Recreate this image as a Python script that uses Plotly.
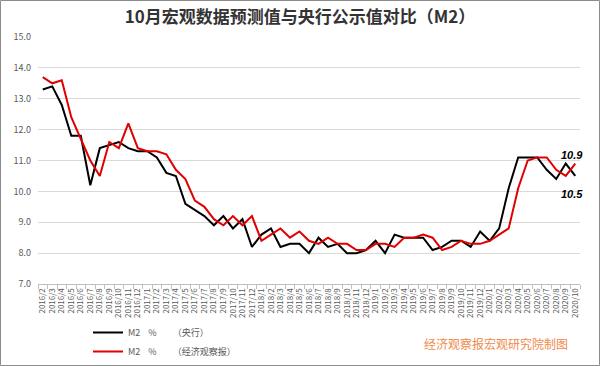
import plotly.graph_objects as go

months = ["2016/2","2016/3","2016/4","2016/5","2016/6","2016/7","2016/8","2016/9","2016/10","2016/11","2016/12",
          "2017/1","2017/2","2017/3","2017/4","2017/5","2017/6","2017/7","2017/8","2017/9","2017/10","2017/11","2017/12",
          "2018/1","2018/2","2018/3","2018/4","2018/5","2018/6","2018/7","2018/8","2018/9","2018/10","2018/11","2018/12",
          "2019/1","2019/2","2019/3","2019/4","2019/5","2019/6","2019/7","2019/8","2019/9","2019/10","2019/11","2019/12",
          "2020/1","2020/2","2020/3","2020/4","2020/5","2020/6","2020/7","2020/8","2020/9","2020/10"]

m2_pboc = [13.3,13.4,12.8,11.8,11.8,10.2,11.4,11.5,11.6,11.4,11.3,
           11.3,11.1,10.6,10.5,9.6,9.4,9.2,8.9,9.2,8.8,9.1,8.2,
           8.6,8.8,8.2,8.3,8.3,8.0,8.5,8.2,8.3,8.0,8.0,8.1,
           8.4,8.0,8.6,8.5,8.5,8.5,8.1,8.2,8.4,8.4,8.2,8.7,
           8.4,8.8,10.1,11.1,11.1,11.1,10.7,10.4,10.9,10.5]

m2_eeo = [13.7,13.5,13.6,12.4,11.7,11.0,10.5,11.6,11.4,12.2,11.4,
          11.3,11.3,11.2,10.7,10.4,9.7,9.5,9.1,8.9,9.2,8.9,9.2,
          8.4,8.6,8.8,8.5,8.7,8.4,8.3,8.5,8.3,8.3,8.1,8.1,
          8.3,8.3,8.2,8.5,8.5,8.6,8.5,8.1,8.2,8.4,8.3,8.3,
          8.4,8.6,8.8,10.1,11.0,11.1,11.1,10.7,10.5,10.9]

y_ticks = [7.0, 8.0, 9.0, 10.0, 11.0, 12.0, 13.0, 14.0, 15.0]

nb = "\u00a0"
name_pboc = "M2" + nb*4 + "%" + nb*8 + "（央行）"
name_eeo = "M2" + nb*4 + "%" + nb*8 + "（经济观察报）"

fig = go.Figure()
fig.add_trace(go.Scatter(x=months, y=m2_pboc, mode="lines", name=name_pboc,
                         line=dict(color="#000000", width=2)))
fig.add_trace(go.Scatter(x=months, y=m2_eeo, mode="lines", name=name_eeo,
                         line=dict(color="#e00000", width=2)))

L, R, T, B = 38, 20, 37, 82
W, H = 600, 366
pw, ph = W - L - R, H - T - B

fig.update_layout(
    width=W, height=H,
    margin=dict(l=L, r=R, t=T, b=B, autoexpand=False),
    paper_bgcolor="white", plot_bgcolor="white",
    font=dict(family="Noto Sans CJK SC, Liberation Sans, sans-serif", color="#595959"),
    title=dict(text="<b>10月宏观数据预测值与央行公示值对比（M2）</b>",
               x=0.5, xanchor="center", y=1 - 17 / H, yanchor="middle",
               font=dict(size=17, color="#333333")),
    showlegend=True,
    legend=dict(x=(88 - L) / pw, y=-(318 - (T + ph)) / ph, xanchor="left", yanchor="top",
                font=dict(size=9, color="#595959"), bgcolor="rgba(0,0,0,0)",
                tracegroupgap=0, itemwidth=30),
)

fig.update_xaxes(type="category", tickmode="array", tickvals=months, ticktext=months,
                 tickangle=-90, tickfont=dict(size=8, color="#595959"),
                 showgrid=False, showline=True, linecolor="#bfbfbf", linewidth=1,
                 ticks="outside", tickson="boundaries", ticklen=4, tickcolor="#bfbfbf",
                 range=[-0.5, len(months) - 0.5])
fig.update_yaxes(range=[7, 15], tickvals=y_ticks, tickformat=".1f",
                 tickfont=dict(size=9, color="#595959"), ticklabelstandoff=6,
                 showgrid=True, gridcolor="#d9d9d9", gridwidth=1,
                 zeroline=False, showline=False)

fig.add_annotation(x=months[-1], y=m2_eeo[-1], text="<b><i>10.9</i></b>", showarrow=False,
                   yshift=9, xshift=-3, font=dict(size=11, color="#000000",
                   family="Liberation Sans, sans-serif"))
fig.add_annotation(x=months[-1], y=m2_pboc[-1], text="<b><i>10.5</i></b>", showarrow=False,
                   yshift=-18, xshift=-3, font=dict(size=11, color="#000000",
                   family="Liberation Sans, sans-serif"))

fig.add_annotation(xref="paper", yref="paper", x=(496 - L) / pw, y=-(343 - (T + ph)) / ph,
                   text="经济观察报宏观研究院制图", showarrow=False, xanchor="center", yanchor="middle",
                   font=dict(size=12, color="#f08a4b", family="Noto Sans CJK SC"))

fig.add_shape(type="rect", xref="paper", yref="paper",
              x0=-(L - 0.5) / pw, x1=1 + (R - 0.5) / pw,
              y0=-(B - 0.5) / ph, y1=1 + (T - 0.5) / ph,
              line=dict(color="#8c8c8c", width=1), fillcolor="rgba(0,0,0,0)", layer="below")

fig.write_html("out.html", config={"displayModeBar": False},
               post_script="document.body.style.margin='0';")
